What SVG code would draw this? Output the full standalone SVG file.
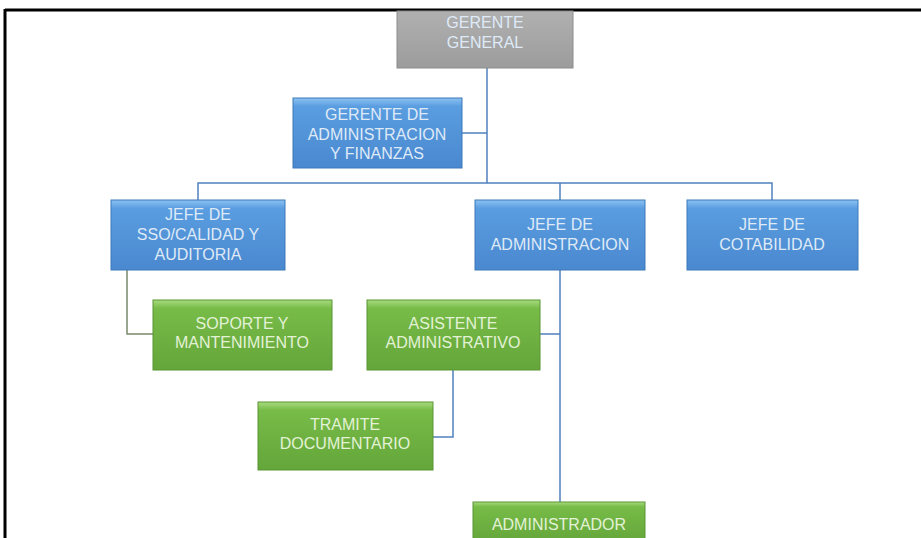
<svg xmlns="http://www.w3.org/2000/svg" width="921" height="538" viewBox="0 0 921 538">
<defs>
<linearGradient id="gBlue" x1="0" y1="0" x2="0" y2="1">
<stop offset="0" stop-color="#8cc2f2"/><stop offset="0.12" stop-color="#5a9de0"/><stop offset="1" stop-color="#4a88cf"/>
</linearGradient>
<linearGradient id="gGreen" x1="0" y1="0" x2="0" y2="1">
<stop offset="0" stop-color="#a8dc7e"/><stop offset="0.12" stop-color="#77bb48"/><stop offset="1" stop-color="#64a63a"/>
</linearGradient>
<linearGradient id="gGray" x1="0" y1="0" x2="0" y2="1">
<stop offset="0" stop-color="#b0b0b0"/><stop offset="1" stop-color="#9c9c9c"/>
</linearGradient>
</defs>
<style>
.blue{fill:url(#gBlue);stroke:#3d78b8;stroke-width:1}
.green{fill:url(#gGreen);stroke:#5a9434;stroke-width:1}
.gray{fill:url(#gGray);stroke:#8c8c8c;stroke-width:1}
.t{font-family:"Liberation Sans",Arial,sans-serif;font-size:16px;fill:#dfeaf7;text-anchor:middle}
.tg{font-family:"Liberation Sans",Arial,sans-serif;font-size:16px;fill:#e3f2d6;text-anchor:middle}
.c{fill:none;stroke:#4f81bd;stroke-width:1.5}
.cg{fill:none;stroke:#7a8a6a;stroke-width:1.5}
</style>
<rect width="921" height="538" fill="#ffffff"/>
<g id="frame">
<line x1="5" y1="10" x2="921" y2="10" stroke="#000" stroke-width="3"/>
<line x1="5" y1="9" x2="5" y2="538" stroke="#000" stroke-width="3"/>
</g>
<g id="connectors">
<path class="c" d="M487 68 V183"/>
<path class="c" d="M462 133 H487"/>
<path class="c" d="M198 200 V183 H772 V200"/>
<path class="c" d="M560 183 V200"/>
<path class="cg" d="M127 270 V334 H153"/>
<path class="c" d="M560 270 V502"/>
<path class="c" d="M540 334 H560"/>
<path class="c" d="M453 370 V437 H433"/>
</g>
<g id="gerente-general">
<rect class="gray" x="397" y="11" width="176" height="57"/>
<text class="t" x="485" y="28">GERENTE</text>
<text class="t" x="485" y="48">GENERAL</text>
</g>
<g id="gerente-admin-finanzas">
<rect class="blue" x="293" y="98" width="169" height="70"/>
<text class="t" x="377" y="120">GERENTE DE</text>
<text class="t" x="377" y="140">ADMINISTRACION</text>
<text class="t" x="377" y="159">Y FINANZAS</text>
</g>
<g id="jefe-sso">
<rect class="blue" x="111" y="200" width="174" height="70"/>
<text class="t" x="198" y="220">JEFE DE</text>
<text class="t" x="198" y="240">SSO/CALIDAD Y</text>
<text class="t" x="198" y="260">AUDITORIA</text>
</g>
<g id="jefe-administracion">
<rect class="blue" x="475" y="200" width="170" height="70"/>
<text class="t" x="560" y="230">JEFE DE</text>
<text class="t" x="560" y="250">ADMINISTRACION</text>
</g>
<g id="jefe-cotabilidad">
<rect class="blue" x="687" y="200" width="171" height="70"/>
<text class="t" x="772" y="230">JEFE DE</text>
<text class="t" x="772" y="250">COTABILIDAD</text>
</g>
<g id="soporte">
<rect class="green" x="153" y="300" width="179" height="70"/>
<text class="tg" x="242" y="329">SOPORTE Y</text>
<text class="tg" x="242" y="348">MANTENIMIENTO</text>
</g>
<g id="asistente">
<rect class="green" x="367" y="300" width="173" height="70"/>
<text class="tg" x="453" y="329">ASISTENTE</text>
<text class="tg" x="453" y="348">ADMINISTRATIVO</text>
</g>
<g id="tramite">
<rect class="green" x="258" y="402" width="175" height="68"/>
<text class="tg" x="345" y="430">TRAMITE</text>
<text class="tg" x="345" y="449">DOCUMENTARIO</text>
</g>
<g id="administrador">
<rect class="green" x="473" y="502" width="172" height="40"/>
<text class="tg" x="559" y="530">ADMINISTRADOR</text>
</g>
</svg>
